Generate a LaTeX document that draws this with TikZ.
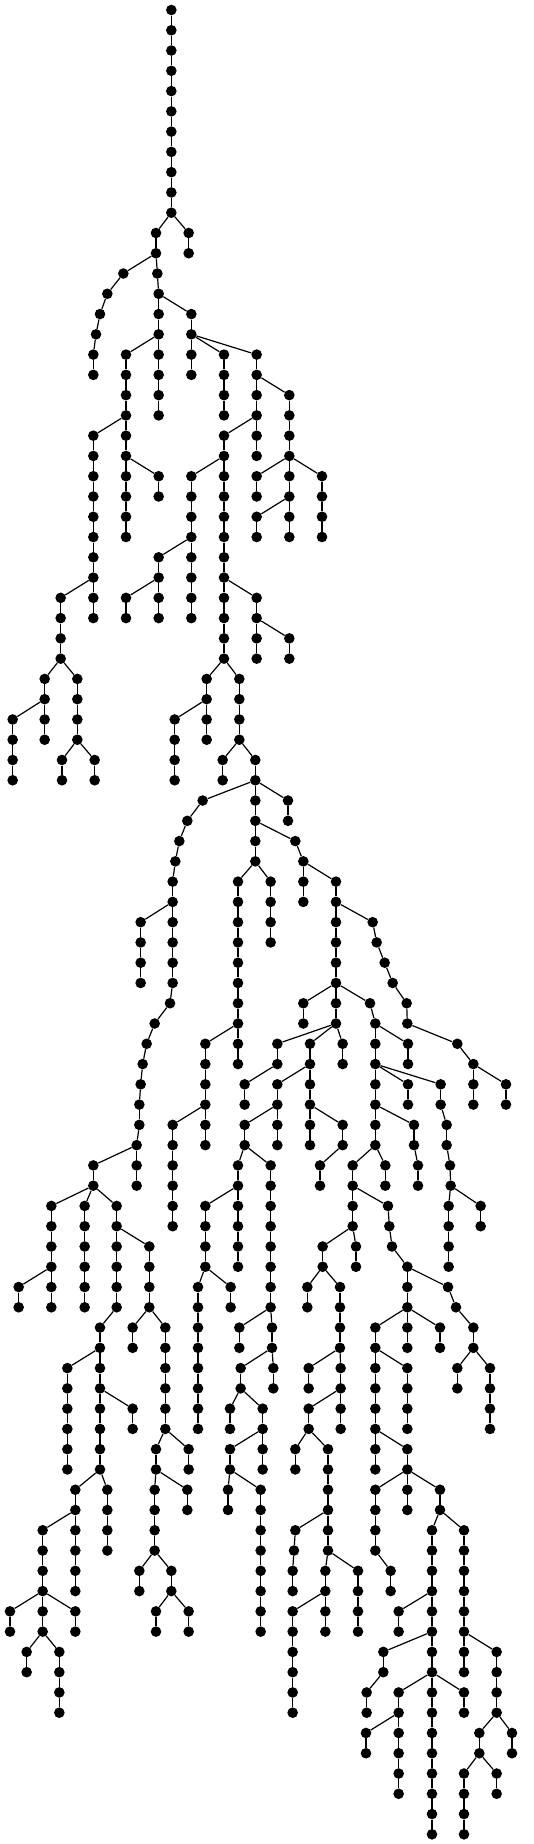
\documentclass[tikz,border=0pt]{standalone}
\begin{document}
\begin{tikzpicture}[x=0.333333pt,y=-20.27pt]
\tikzset{vtx/.style={circle,fill=black,draw=none,inner sep=0pt,minimum size=10.6pt},
         link/.style={line width=1.2pt,black}}
\useasboundingbox (0,-0.4933) rectangle (1602,90.478);
\def\edgelist{514/0/514/1, 514/1/514/2, 514/2/514/3, 514/3/514/4, 514/4/514/5, 514/5/514/6, 514/6/514/7, 514/7/514/8, 514/8/514/9, 514/9/514/10,
514/10/468/11, 514/10/566/11, 566/11/566/12, 468/11/468/12,
468/12/370/13, 468/12/472/13,
370/13/322/14, 322/14/300/15, 300/15/288/16, 288/16/280/17, 280/17/280/18,
472/13/476/14, 476/14/476/15, 476/14/574/15,
476/15/476/16, 476/16/378/17, 476/16/476/17,
476/17/476/18, 476/18/476/19, 476/19/476/20,
378/17/378/18, 378/18/378/19, 378/19/378/20,
378/20/280/21, 378/20/378/21,
280/21/280/22, 280/22/280/23, 280/23/280/24, 280/24/280/25, 280/25/280/26, 280/26/280/27, 280/27/280/28,
280/28/182/29, 280/28/280/29, 280/29/280/30,
182/29/182/30, 182/30/182/31, 182/31/182/32,
182/32/134/33, 182/32/232/33,
134/33/134/34, 134/34/38/35, 134/34/134/35,
38/35/38/36, 38/36/38/37, 38/37/38/38,
134/35/134/36,
232/33/232/34, 232/34/232/35, 232/35/232/36,
232/36/186/37, 232/36/284/37, 186/37/186/38, 284/37/284/38,
378/21/378/22, 378/22/378/23, 378/22/476/23,
378/23/378/24, 378/24/378/25, 378/25/378/26,
476/23/476/24,
574/15/574/16, 574/16/574/17, 574/16/672/17, 574/16/770/17,
574/17/574/18,
672/17/672/18, 672/18/672/19, 672/19/672/20,
770/17/770/18, 770/18/770/19, 770/18/868/19,
868/19/868/20, 868/20/868/21, 868/21/868/22, 868/22/770/23, 868/22/868/23, 868/22/966/23,
770/23/770/24,
868/23/868/24, 868/24/770/25, 868/24/868/25, 770/25/770/26, 868/25/868/26,
966/23/966/24, 966/24/966/25, 966/25/966/26,
770/19/770/20, 770/20/672/21, 770/20/770/21, 770/21/770/22,
672/21/672/22, 672/22/574/23, 672/22/672/23,
574/23/574/24, 574/24/574/25, 574/25/574/26,
574/26/476/27, 574/26/574/27,
476/27/476/28, 476/28/378/29, 476/28/476/29, 378/29/378/30, 476/29/476/30,
574/27/574/28, 574/28/574/29, 574/29/574/30,
672/23/672/24, 672/24/672/25, 672/25/672/26, 672/26/672/27, 672/27/672/28,
672/28/672/29, 672/28/770/29,
770/29/770/30, 770/30/770/31, 770/30/868/31, 770/31/770/32, 868/31/868/32,
672/29/672/30, 672/30/672/31, 672/31/672/32,
672/32/620/33, 672/32/718/33,
620/33/620/34, 620/34/524/35, 620/34/620/35,
524/35/524/36, 524/36/524/37, 524/37/524/38,
620/35/620/36,
718/33/718/34, 718/34/718/35, 718/35/718/36,
718/36/668/37, 718/36/766/37, 668/37/668/38, 766/37/766/38,
766/38/608/39, 766/38/766/39, 766/38/864/39,
864/39/864/40,
608/39/562/40, 562/40/538/41, 538/41/526/42, 526/42/518/43, 518/43/518/44,
518/44/422/45, 518/44/518/45,
422/45/422/46, 422/46/422/47, 422/47/422/48,
518/45/518/46, 518/46/518/47, 518/47/518/48, 518/48/510/49, 510/49/464/50, 464/50/440/51, 440/51/428/52, 428/52/422/53, 422/53/418/54, 418/54/418/55, 418/55/410/56,
410/56/280/57, 410/56/410/57, 410/57/410/58,
280/57/280/58,
280/58/154/59, 280/58/254/59, 280/58/350/59,
154/59/154/60, 154/60/154/61, 154/61/154/62,
154/62/56/63, 154/62/154/63, 56/63/56/64, 154/63/154/64,
254/59/254/60, 254/60/254/61, 254/61/254/62, 254/62/254/63, 254/63/254/64,
350/59/350/60, 350/60/350/61, 350/60/448/61,
350/61/350/62, 350/62/350/63, 350/63/350/64, 350/64/300/65, 300/65/300/66,
300/66/202/67, 300/66/300/67,
202/67/202/68, 202/68/202/69, 202/69/202/70, 202/70/202/71, 202/71/202/72,
300/67/300/68, 300/68/300/69, 300/68/398/69, 398/69/398/70,
300/69/300/70, 300/70/300/71, 300/71/300/72,
300/72/226/73, 300/72/322/73,
226/73/226/74, 226/74/128/75, 226/74/226/75,
128/75/128/76, 128/76/128/77, 128/77/128/78,
128/78/30/79, 128/78/128/79, 128/78/226/79,
30/79/30/80, 226/79/226/80,
128/79/128/80, 128/80/80/81, 128/80/178/81,
80/81/80/82, 178/81/178/82, 178/82/178/83, 178/83/178/84,
226/75/226/76, 226/76/226/77, 226/77/226/78,
322/73/322/74, 322/74/322/75, 322/75/322/76,
448/61/448/62, 448/62/448/63, 448/63/448/64,
448/64/398/65, 448/64/496/65, 398/65/398/66,
496/65/496/66, 496/66/496/67, 496/67/496/68, 496/68/496/69, 496/69/496/70,
496/70/468/71, 496/70/566/71, 566/71/566/72,
468/71/468/72, 468/72/464/73, 468/72/562/73, 562/73/562/74,
464/73/464/74, 464/74/464/75, 464/75/464/76,
464/76/418/77, 464/76/514/77, 418/77/418/78,
514/77/514/78, 514/78/468/79, 514/78/566/79, 468/79/468/80, 566/79/566/80,
766/39/766/40, 766/40/766/41, 766/40/886/41, 766/41/766/42,
766/42/714/43, 766/42/812/43,
714/43/714/44, 714/44/714/45, 714/45/714/46, 714/46/714/47, 714/47/714/48, 714/48/714/49, 714/49/714/50,
714/50/616/51, 714/50/714/51, 714/51/714/52,
616/51/616/52, 616/52/616/53, 616/53/616/54,
616/54/518/55, 616/54/616/55, 616/55/616/56,
518/55/518/56, 518/56/518/57, 518/57/518/58, 518/58/518/59, 518/59/518/60,
812/43/812/44, 812/44/812/45, 812/45/812/46,
886/41/910/42, 910/42/910/43, 910/42/1008/43, 910/43/910/44,
1008/43/1008/44, 1008/44/1008/45, 1008/44/1118/45,
1008/45/1008/46, 1008/46/1008/47, 1008/47/1008/48,
1008/48/910/49, 1008/48/1008/49, 1008/48/1110/49,
910/49/910/50, 1008/49/1008/50,
1008/50/832/51, 1008/50/930/51, 1008/50/1028/51,
832/51/832/52, 832/52/734/53, 734/53/734/54,
930/51/930/52, 930/52/832/53, 930/52/930/53,
832/53/832/54, 832/54/734/55, 832/54/832/55, 832/55/832/56,
734/55/734/56, 734/56/714/57, 734/56/812/57,
714/57/714/58, 714/58/616/59, 714/58/714/59,
616/59/616/60, 616/60/616/61, 616/61/616/62,
616/62/594/63, 616/62/692/63, 692/63/692/64,
594/63/594/64, 594/64/594/65, 594/65/594/66, 594/66/594/67, 594/67/594/68, 594/68/594/69, 594/69/594/70,
714/59/714/60, 714/60/714/61, 714/61/714/62,
812/57/812/58, 812/58/812/59, 812/59/812/60, 812/60/812/61, 812/61/812/62, 812/62/812/63, 812/63/812/64,
812/64/718/65, 812/64/816/65, 718/65/718/66,
816/65/816/66, 816/66/722/67, 816/66/820/67, 820/67/820/68,
722/67/722/68, 722/68/690/69, 722/68/788/69, 690/69/690/70,
788/69/788/70, 788/70/690/71, 788/70/788/71, 788/71/788/72,
690/71/690/72, 690/72/684/73, 690/72/782/73, 684/73/684/74,
782/73/782/74, 782/74/782/75, 782/75/782/76, 782/76/782/77, 782/77/782/78, 782/78/782/79, 782/79/782/80,
930/53/930/54, 930/54/930/55, 930/54/1028/55, 930/55/930/56,
1028/55/1028/56, 1028/56/960/57, 960/57/960/58,
1028/51/1028/52,
1110/49/1126/50, 1126/50/1126/51, 1126/50/1224/51, 1224/51/1224/52,
1126/51/1126/52, 1126/52/1126/53, 1126/52/1224/53, 1126/52/1322/53,
1224/53/1224/54,
1126/53/1126/54, 1126/54/1126/55, 1126/54/1242/55,
1126/55/1126/56, 1126/56/1058/57, 1126/56/1156/57, 1156/57/1156/58,
1058/57/1058/58, 1058/58/1058/59, 1058/58/1164/59,
1058/59/1058/60, 1058/60/968/61, 1058/60/1068/61, 1068/61/1068/62,
968/61/968/62, 968/62/922/63, 968/62/1020/63, 922/63/922/64,
1020/63/1020/64, 1020/64/1020/65, 1020/65/1020/66,
1020/66/926/67, 1020/66/1022/67, 926/67/926/68,
1022/67/1022/68, 1022/68/926/69, 1022/68/1022/69, 1022/69/1022/70,
926/69/926/70, 926/70/886/71, 926/70/984/71, 886/71/886/72,
984/71/984/72, 984/72/984/73, 984/73/984/74,
984/74/886/75, 984/74/984/75,
886/75/882/76, 882/76/878/77, 878/77/878/78,
984/75/984/76, 984/76/976/77, 984/76/1074/77,
976/77/976/78, 976/78/878/79, 976/78/976/79, 976/79/976/80,
878/79/878/80, 878/80/878/81, 878/81/878/82, 878/82/878/83, 878/83/878/84,
1074/77/1074/78, 1074/78/1074/79, 1074/79/1074/80,
1164/59/1168/60, 1168/60/1176/61, 1176/61/1222/62,
1222/62/1222/63, 1222/62/1344/63, 1222/63/1222/64,
1222/64/1126/65, 1222/64/1222/65, 1222/64/1320/65,
1222/65/1222/66, 1320/65/1320/66,
1126/65/1126/66, 1126/66/1126/67, 1126/66/1222/67,
1222/67/1222/68, 1222/68/1222/69, 1222/69/1222/70,
1126/67/1126/68, 1126/68/1126/69, 1126/69/1126/70,
1126/70/1126/71, 1126/70/1222/71, 1126/71/1126/72,
1222/71/1222/72, 1222/72/1126/73, 1222/72/1222/73, 1222/72/1320/73,
1222/73/1222/74,
1126/73/1126/74, 1126/74/1126/75, 1126/75/1126/76, 1126/76/1172/77, 1172/77/1172/78,
1320/73/1320/74, 1320/74/1296/75, 1320/74/1392/75,
1296/75/1296/76, 1296/76/1296/77, 1296/77/1296/78,
1296/78/1196/79, 1296/78/1296/79, 1196/79/1196/80,
1296/79/1296/80, 1296/80/1150/81, 1296/80/1296/81,
1150/81/1150/82, 1150/82/1100/83, 1100/83/1100/84,
1296/81/1296/82, 1296/82/1196/83, 1296/82/1296/83, 1296/82/1392/83,
1196/83/1196/84, 1196/84/1098/85, 1196/84/1196/85, 1098/85/1098/86,
1196/85/1196/86, 1196/86/1196/87, 1196/87/1196/88,
1296/83/1296/84, 1296/84/1296/85, 1296/85/1296/86, 1296/86/1296/87, 1296/87/1296/88, 1296/88/1296/89, 1296/89/1296/90,
1392/83/1392/84,
1392/75/1392/76, 1392/76/1392/77, 1392/77/1392/78, 1392/78/1392/79, 1392/79/1392/80,
1392/80/1392/81, 1392/80/1490/81, 1392/81/1392/82,
1490/81/1490/82, 1490/82/1490/83, 1490/83/1490/84,
1490/84/1438/85, 1490/84/1536/85, 1536/85/1536/86,
1438/85/1438/86, 1438/86/1392/87, 1438/86/1490/87,
1392/87/1392/88, 1392/88/1392/89, 1392/89/1392/90,
1490/87/1490/88,
1344/63/1368/64, 1368/64/1420/65, 1420/65/1420/66,
1420/66/1372/67, 1420/66/1470/67, 1372/67/1372/68,
1470/67/1470/68, 1470/68/1470/69, 1470/69/1470/70,
1242/55/1242/56, 1242/56/1254/57, 1254/57/1254/58,
1322/53/1322/54, 1322/54/1340/55, 1340/55/1340/56, 1340/56/1350/57, 1350/57/1352/58,
1352/58/1346/59, 1352/58/1442/59,
1346/59/1346/60, 1346/60/1346/61, 1346/61/1346/62,
1442/59/1442/60,
1118/45/1130/46, 1130/46/1154/47, 1154/47/1178/48, 1178/48/1220/49, 1220/49/1222/50, 1222/50/1372/51, 1372/51/1420/52,
1420/52/1420/53, 1420/52/1518/53, 1420/53/1420/54, 1518/53/1518/54}
% vertices
\node[vtx] (n514-0) at (514,0) {};
\foreach \a/\b/\c/\d in \edgelist {\node[vtx] (n\c-\d) at (\c,\d) {};}
% connectors
\foreach \a/\b/\c/\d in \edgelist {\draw[link] (n\a-\b) -- (n\c-\d);}
\end{tikzpicture}
\end{document}
